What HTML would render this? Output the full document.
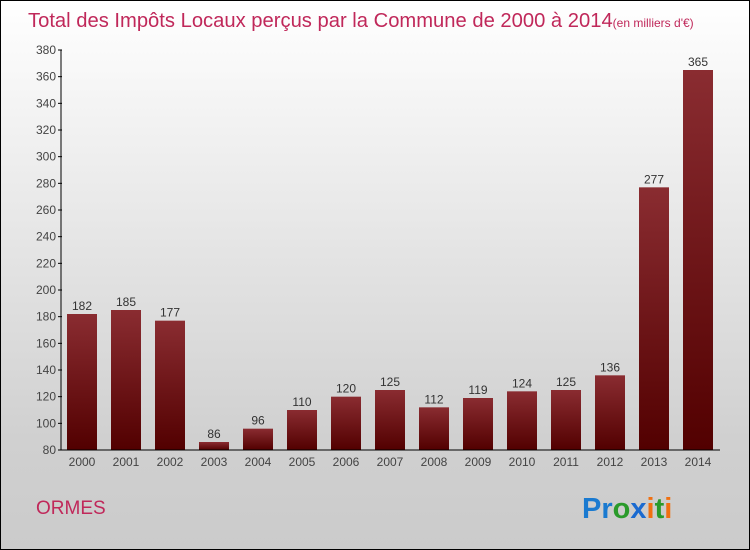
<!DOCTYPE html>
<html><head><meta charset="utf-8"><style>
body{margin:0}
#wrap{position:relative;width:750px;height:550px;box-sizing:border-box;border:1px solid #000;background:linear-gradient(#fff,#d0d0d0 80%,#cbcbcb);font-family:"Liberation Sans",sans-serif;overflow:hidden}
</style></head><body>
<div id="wrap">
<svg id="c" width="750" height="550" style="position:absolute;left:-1px;top:-1px">
<defs><linearGradient id="g" x1="0" y1="0" x2="0" y2="1"><stop offset="0" stop-color="#8a2c31"/><stop offset="1" stop-color="#520000"/></linearGradient></defs>
<text x="28" y="27" font-size="20.2" fill="#c0285a">Total des Impôts Locaux perçus par la Commune de 2000 à 2014<tspan font-size="12">(en milliers d'€)</tspan></text>
<text x="36" y="514" font-size="19" fill="#c0285a">ORMES</text>
<text x="582" y="518" font-size="29" font-weight="bold"><tspan fill="#1a7ad0">Pr</tspan><tspan fill="#2a9a2a">o</tspan><tspan fill="#1a6ad0">x</tspan><tspan fill="#f07010">i</tspan><tspan fill="#2a9a2a">t</tspan><tspan fill="#f07010">i</tspan></text>
</svg>
</div>
<script>
const years=["2000","2001","2002","2003","2004","2005","2006","2007","2008","2009","2010","2011","2012","2013","2014"];
const values=[182,185,177,86,96,110,120,125,112,119,124,125,136,277,365];
const yTicks=[80,100,120,140,160,180,200,220,240,260,280,300,320,340,360,380];
const svg=document.getElementById('c');
const NS='http://www.w3.org/2000/svg';
const y=v=>450-(v-80)*400/300;
const x=i=>82+i*44;
function mk(t,a){const e=document.createElementNS(NS,t);for(const k in a)e.setAttribute(k,a[k]);svg.appendChild(e);return e;}
yTicks.forEach(v=>{
const l=mk('line',{x1:58,x2:62,y1:y(v),y2:y(v),stroke:'#000'});


const t=mk('text',{x:56,y:y(v)+4,'font-size':12,'text-anchor':'end',fill:'#444'});t.textContent=v;


});
values.forEach((v,i)=>{
const r=mk('rect',{x:x(i)-15,y:y(v),width:30,height:450-y(v),fill:'url(#g)'});


const t=mk('text',{x:x(i),y:y(v)-4,'font-size':12,'text-anchor':'middle',fill:'#333'});t.textContent=v;


const xl=mk('text',{x:x(i),y:466,'font-size':12,'text-anchor':'middle',fill:'#444'});xl.textContent=years[i];


});
const ya=mk('line',{x1:61,x2:61,y1:y(380),y2:450,stroke:'#000'});


const xa=mk('line',{x1:61,x2:720,y1:450,y2:450,stroke:'#000'});


</script>
</body></html>
